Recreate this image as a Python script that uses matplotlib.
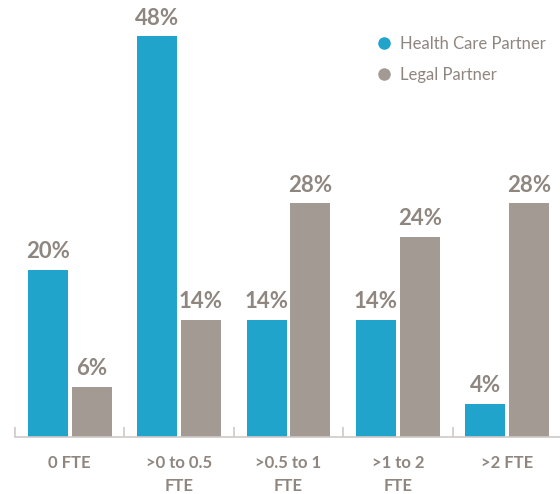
import matplotlib
matplotlib.use("Agg")
import matplotlib.pyplot as plt
from matplotlib.lines import Line2D
import numpy as np

categories = ["0 FTE", ">0 to 0.5\nFTE", ">0.5 to 1\nFTE", ">1 to 2\nFTE", ">2 FTE"]
series_names = ["Health Care Partner", "Legal Partner"]
health_care = [20, 48, 14, 14, 4]
legal = [6, 14, 28, 24, 28]

BLUE = "#21A4CB"
GRAY = "#A39A94"
TEXT = "#8F8680"

plt.rcParams['font.family'] = ['Lato', 'DejaVu Sans']

fig = plt.figure(figsize=(5.6, 4.94), dpi=100)
ax = fig.add_axes([15/560, 1 - 437/494, 547/560, 437/494])

x = np.arange(len(categories))
w = 0.365
off = 0.2
b1 = ax.bar(x - off, health_care, width=w, color=BLUE)
b2 = ax.bar(x + off, legal, width=w, color=GRAY)

for bars, vals in ((b1, health_care), (b2, legal)):
    for r, v in zip(bars, vals):
        ax.annotate(f"{v}%", (r.get_x() + r.get_width()/2, v), xytext=(0, 5.5),
                    textcoords="offset points", ha="center", va="bottom",
                    fontsize=16, fontweight="bold", color=TEXT)

ax.set_xlim(-0.5, 4.5)
ax.set_ylim(0, 437/8.35)

for s in ["top", "right", "left"]:
    ax.spines[s].set_visible(False)
ax.spines["bottom"].set_color("#CFCAC6")
ax.spines["bottom"].set_linewidth(1.2)
ax.set_yticks([])

ax.set_xticks(np.arange(-0.5, 4.6, 1.0))
ax.set_xticklabels([])
ax.tick_params(axis="x", direction="in", length=7, width=1.2, color="#CFCAC6")
ax.set_xticks(x, minor=True)
ax.set_xticklabels(categories, minor=True, fontsize=12, fontweight="bold",
                   color=TEXT, linespacing=1.5)
ax.tick_params(axis="x", which="minor", length=0, pad=13)

handles = [Line2D([], [], marker="o", linestyle="none", markersize=8,
                  markerfacecolor=c, markeredgecolor=c) for c in (BLUE, GRAY)]
leg = ax.legend(handles, series_names, loc="upper left",
                bbox_to_anchor=(369/560, 1 - 29/494), bbox_transform=fig.transFigure,
                frameon=False, fontsize=12, labelcolor=TEXT, handletextpad=0.45,
                labelspacing=0.9, handlelength=1.0, borderaxespad=0)

fig.savefig("out.png", dpi=100)
